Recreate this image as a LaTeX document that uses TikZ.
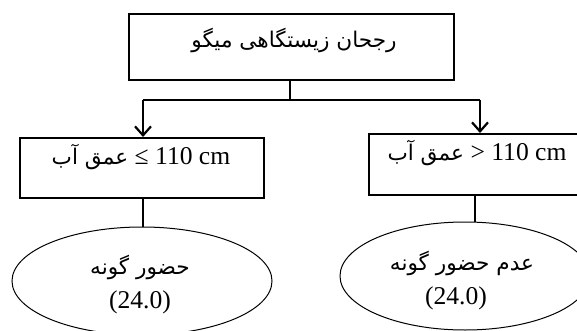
\documentclass[tikz,border=0pt]{standalone}
\usepackage{fontspec}
\setmainfont{Liberation Serif}
\newfontfamily\arabicfont[Script=Arabic]{DejaVu Sans}
\TeXXeTstate=1
\usetikzlibrary{arrows.meta,shapes.geometric}
\newcommand{\arsz}{\arabicfont\fontsize{10.8}{13}\selectfont}
\begin{document}
\begin{tikzpicture}[x=0.5pt,y=-0.5pt,
  box/.style={draw,line width=1.2pt,rectangle,inner sep=0pt,anchor=north west},
  oval/.style={draw,line width=0.5pt,ellipse,inner sep=0pt},
  txt/.style={inner sep=0pt,font=\fontsize{12.8}{15}\selectfont},
  conn/.style={line width=1.2pt},
  arr/.style={line width=1.2pt,-{Straight Barb[length=4.5pt,width=8pt,line width=1.1pt]}}]
\path[use as bounding box, clip] (0,0) rectangle (577,331);
\node[box,minimum width=162.5pt,minimum height=33pt] (top) at (128,13) {};
\node[box,minimum width=122pt,minimum height=30pt] (lbox) at (19,137) {};
\node[box,minimum width=115pt,minimum height=30.5pt] (rbox) at (368,133) {};
\node[oval,minimum width=130pt,minimum height=54pt] (lell) at (142,281) {};
\node[oval,minimum width=125pt,minimum height=54pt] (rell) at (465,276) {};
\node[txt] (ttop) at (294,40) {\arsz\beginR رجحان زیستگاهی میگو\endR};
\node[txt] (tl) at (141,157) {{\arsz\beginR عمق آب\endR} ≤ 110 cm};
\node[txt] (tr) at (477,153) {{\arsz\beginR عمق آب\endR} > 110 cm};
\node[txt] (el1) at (140,267) {\arsz\beginR حضور گونه\endR};
\node[txt] (el2) at (140,302) {(24.0)};
\node[txt] (er1) at (462,263) {\arsz\beginR عدم حضور گونه\endR};
\node[txt] (er2) at (456,298) {(24.0)};
\coordinate (j) at (290,100);
\coordinate (la) at (143,100);
\coordinate (ra) at (480,100);
\draw[conn] (top.south -| j) -- (j);
\draw[conn] (la) -- (ra);
\draw[arr] (la) -- (la |- lbox.north);
\draw[arr] (ra) -- (ra |- rbox.north);
\draw[conn] (lbox.south -| la) -- (la |- lell.north);
\draw[conn] (rbox.south -| 475,0) -- (rell.north -| 475,0);
\end{tikzpicture}
\end{document}
